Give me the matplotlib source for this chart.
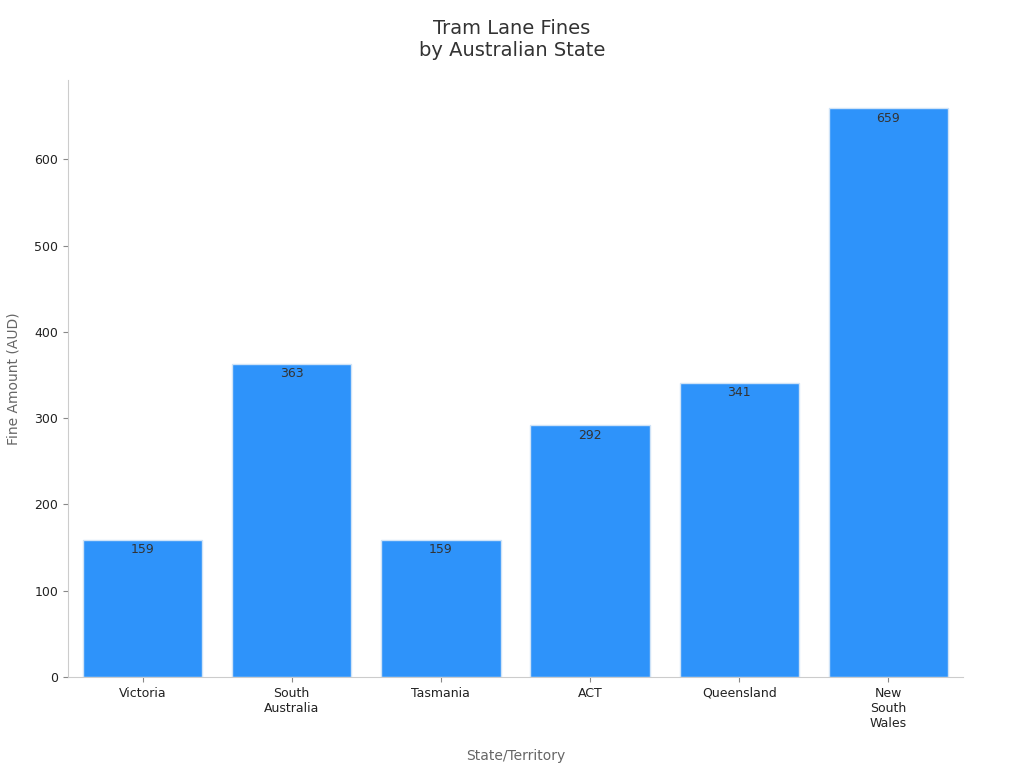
import matplotlib.pyplot as plt

states = ["Victoria", "South\nAustralia", "Tasmania", "ACT", "Queensland", "New\nSouth\nWales"]
fines = [159, 363, 159, 292, 341, 659]

fig = plt.figure(figsize=(10.24, 7.68), dpi=100)
ax = fig.add_axes([68 / 1024, 1 - 677 / 768, (963 - 68) / 1024, (677 - 80) / 768])

x = range(len(states))
ax.bar(x, fines, width=0.8, color="#2E93FA", edgecolor="#cfe3f7", linewidth=1)
for xi, v in zip(x, fines):
    ax.text(xi, v - 4, str(v), ha="center", va="top", fontsize=9, color="#333333")

ax.set_xlim(-0.5, 5.5)
ax.set_ylim(0, 692)
ax.set_xticks(list(x))
ax.set_xticklabels(states, fontsize=9, color="#222222")
ax.set_yticks([0, 100, 200, 300, 400, 500, 600])
ax.tick_params(axis="y", labelsize=9, colors="#222222")
ax.tick_params(axis="both", color="#888888")
for s in ["top", "right"]:
    ax.spines[s].set_visible(False)
for s in ["left", "bottom"]:
    ax.spines[s].set_color("#cccccc")

ax.set_xlabel("State/Territory", fontsize=10, color="#666666", labelpad=14)
ax.set_ylabel("Fine Amount (AUD)", fontsize=10, color="#666666", labelpad=10)
fig.suptitle("Tram Lane Fines\nby Australian State", fontsize=14, color="#333333", y=0.975)

fig.savefig("out.png", dpi=100)
